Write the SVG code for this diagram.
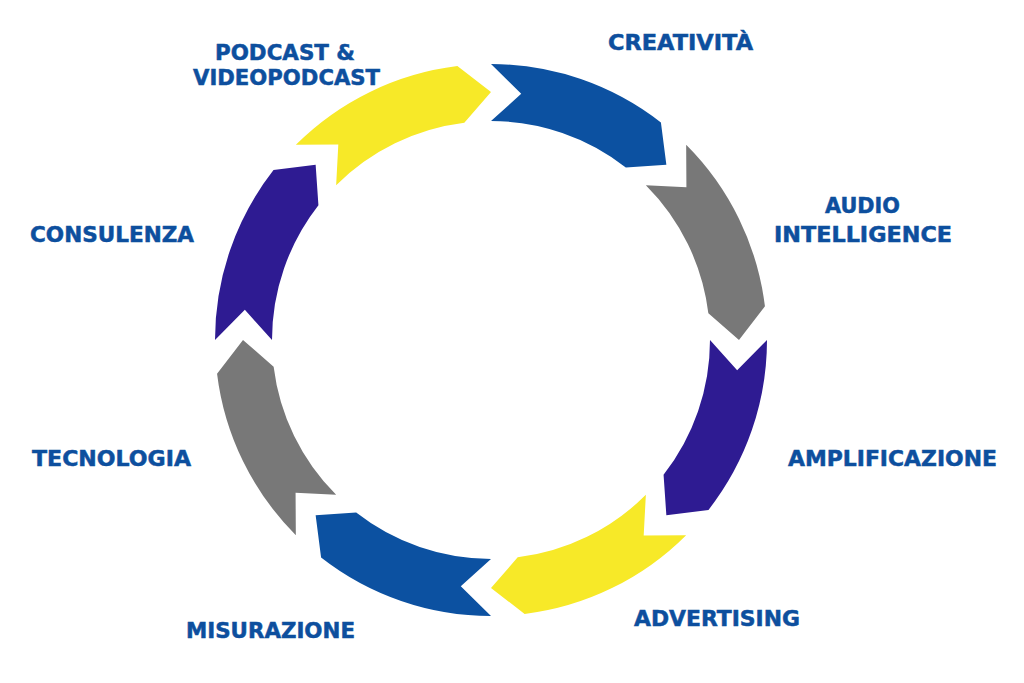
<svg xmlns="http://www.w3.org/2000/svg" xmlns:xlink="http://www.w3.org/1999/xlink" width="1024" height="683" viewBox="0 0 1024 683">
  <style>
    .lbl { font-family: "DejaVu Sans", "Liberation Sans", sans-serif; font-weight: bold; font-size: 21px; fill: #0D4F9E; stroke: #0D4F9E; stroke-width: 0.5px; }
    .blue { fill: #0C51A1; }
    .grey { fill: #787878; }
    .purple { fill: #2E1B92; }
    .yellow { fill: #F7E928; }
  </style>
  <defs>
    <path id="seg" d="M0,-276 A276,276 0 0 1 169.92,-217.49 L175.36,-175.36 L134.83,-172.57 A219,219 0 0 0 0,-219 L30.22,-246.15 Z"/>
  </defs>
  <rect width="1024" height="683" fill="#FFFFFF"/>
  <g id="connectors"/>
  <g transform="translate(491,340)">
    <g id="node-creativita"><use xlink:href="#seg" href="#seg" class="blue" transform="rotate(0)"/></g>
    <g id="node-audio-intelligence"><use xlink:href="#seg" href="#seg" class="grey" transform="rotate(45)"/></g>
    <g id="node-amplificazione"><use xlink:href="#seg" href="#seg" class="purple" transform="rotate(90)"/></g>
    <g id="node-advertising"><use xlink:href="#seg" href="#seg" class="yellow" transform="rotate(135)"/></g>
    <g id="node-misurazione"><use xlink:href="#seg" href="#seg" class="blue" transform="rotate(180)"/></g>
    <g id="node-tecnologia"><use xlink:href="#seg" href="#seg" class="grey" transform="rotate(225)"/></g>
    <g id="node-consulenza"><use xlink:href="#seg" href="#seg" class="purple" transform="rotate(270)"/></g>
    <g id="node-podcast"><use xlink:href="#seg" href="#seg" class="yellow" transform="rotate(315)"/></g>
  </g>
  <g id="labels">
    <text class="lbl" x="608" y="50" textLength="145" lengthAdjust="spacingAndGlyphs">CREATIVITÀ</text>
    <text class="lbl" x="825" y="213" textLength="75" lengthAdjust="spacingAndGlyphs">AUDIO</text>
    <text class="lbl" x="774" y="242" textLength="178" lengthAdjust="spacingAndGlyphs">INTELLIGENCE</text>
    <text class="lbl" x="788" y="466" textLength="209" lengthAdjust="spacingAndGlyphs">AMPLIFICAZIONE</text>
    <text class="lbl" x="634" y="626" textLength="166" lengthAdjust="spacingAndGlyphs">ADVERTISING</text>
    <text class="lbl" x="186" y="638" textLength="169" lengthAdjust="spacingAndGlyphs">MISURAZIONE</text>
    <text class="lbl" x="32" y="466" textLength="159" lengthAdjust="spacingAndGlyphs">TECNOLOGIA</text>
    <text class="lbl" x="30" y="242" textLength="164" lengthAdjust="spacingAndGlyphs">CONSULENZA</text>
    <text class="lbl" x="215" y="60" textLength="140" lengthAdjust="spacingAndGlyphs">PODCAST &amp;</text>
    <text class="lbl" x="193" y="85" textLength="187" lengthAdjust="spacingAndGlyphs">VIDEOPODCAST</text>
  </g>
</svg>
